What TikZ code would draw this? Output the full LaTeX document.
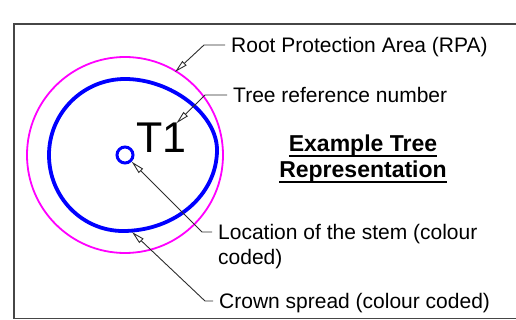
\documentclass[tikz,border=0pt]{standalone}
\usepackage{fontspec}
\setmainfont{Liberation Sans}
\usetikzlibrary{arrows.meta}
\definecolor{rpacol}{RGB}{255,0,255}
\definecolor{crowncol}{RGB}{0,0,255}
\definecolor{framecol}{RGB}{70,70,70}
\definecolor{leadcol}{RGB}{45,45,45}
\newcommand{\ulword}[1]{\setbox0\hbox{#1}\rlap{\rule[-4.8pt]{\wd0}{1.6pt}}\box0}
\tikzset{
  leader/.style={draw=leadcol, line width=0.9pt, -{Triangle[open,length=13pt,width=6pt]}},
  labeltext/.style={inner xsep=6pt, inner ysep=0pt, font=\fontsize{21}{25}\selectfont},
  oneline/.style={labeltext, anchor=west, text height=15pt, text depth=0pt},
}

\begin{document}
\begin{tikzpicture}[x=1pt,y=-1pt]
\useasboundingbox (0,0) rectangle (516,320);
\draw[framecol, line width=1.6pt] (516,24) -- (14,24) -- (14,318.5) -- (516,318.5); %frame
\draw[rpacol, line width=1.8pt] (125,155) circle[radius=98pt]; %RPA
\draw[crowncol, line width=3.8pt] (125,79) .. controls (171,79) and (217,114) .. (217,150)
  .. controls (217,195) and (175,231) .. (123,231)
  .. controls (82,231) and (49,197) .. (49,155)
  .. controls (49,113) and (83,79) .. (125,79) -- cycle; %crown
\node[circle, draw=crowncol, line width=3pt, minimum size=16pt, inner sep=0pt] (stem) at (125,155) {}; %stem
\node[anchor=base west, inner sep=0pt, font=\fontsize{43}{50}\selectfont] (t1) at (136,153) {T1}; %tree number
\node[anchor=north, align=center, inner sep=0pt, font=\bfseries\fontsize{23}{26}\selectfont] (title) at (363,135) {\ulword{Example Tree}\\\ulword{Representation}}; %title

\coordinate (rpatip) at (175,72);
\coordinate (rpabend) at (204,45);
\coordinate (treebend) at (205,95);
\coordinate (stembend) at (202,232);
\coordinate (crowntip) at (132,232);
\coordinate (crownbend) at (205,301);

\node[oneline] (rpatxt) at (225,45) {Root Protection Area (RPA)};
\node[oneline] (treetxt) at (227,95) {Tree reference number};
\node[labeltext, anchor=north west, align=left] (stemtxt) at (212,224) {Location of the stem (colour\\coded)};
\node[oneline] (crowntxt) at (213,301) {Crown spread (colour coded)};

\draw[leader] (rpatxt.west) -- (rpabend) -- (rpatip); %RPA leader
\draw[leader] (treetxt.west) -- (treebend) -- (t1); %tree number leader
\draw[leader] ([yshift=-8pt]stemtxt.north west) -- (stembend) -- (stem); %stem leader
\draw[leader] (crowntxt.west) -- (crownbend) -- (crowntip); %crown leader
\end{tikzpicture}
\end{document}
